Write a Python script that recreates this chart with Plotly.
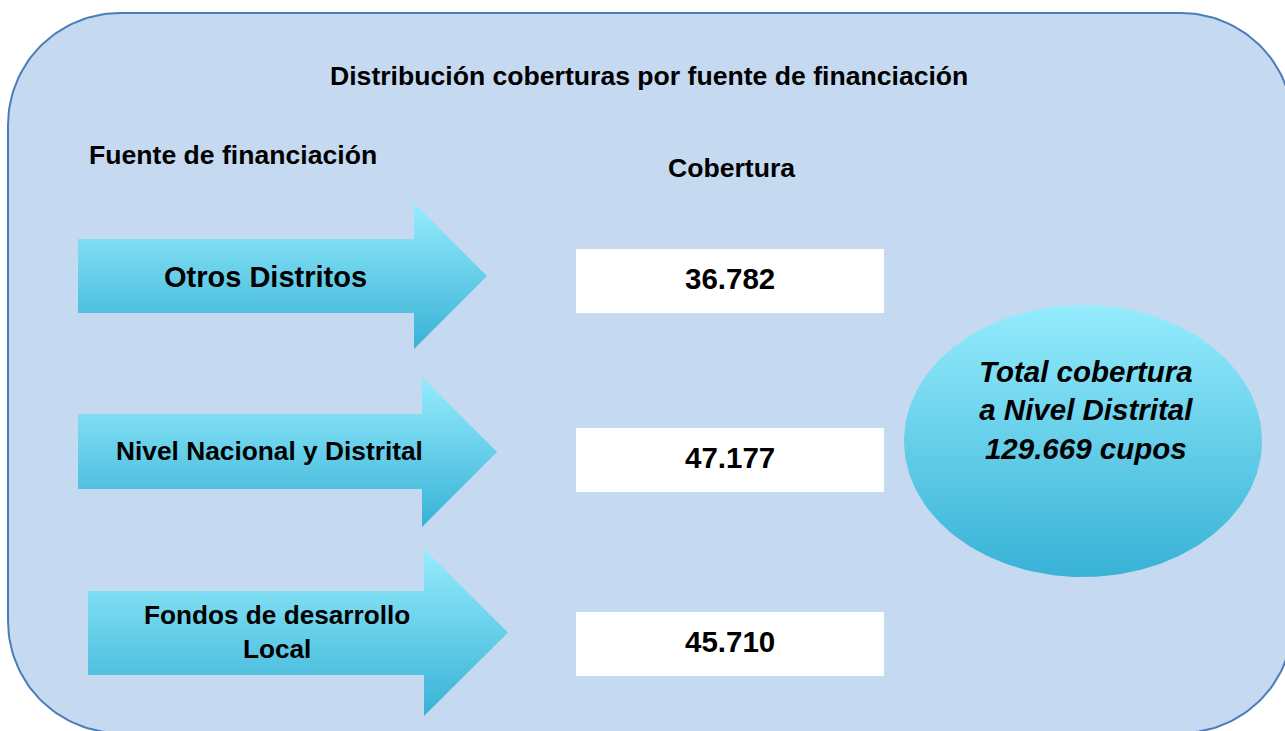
import plotly.graph_objects as go
import numpy as np

# ---------------- data ----------------
title_text = "Distribución coberturas por fuente de financiación"
col_source = "Fuente de financiación"
col_cov = "Cobertura"
categories = ["Otros Distritos", "Nivel Nacional y Distrital", "Fondos de desarrollo<br>Local"]
coberturas = [36782, 47177, 45710]
total_label = ["Total cobertura", "a Nivel Distrital", "cupos"]

def fmt(n):
    return f"{n:,}".replace(",", ".")

total = sum(coberturas)

# ---------------- layout geometry (pixels) ----------------
W, H = 1285, 731
FONT = "Liberation Sans, Arial, sans-serif"
PANEL_FILL = "#C5D9F1"
PANEL_LINE = "#4A7EBB"
GRAD = [[0, "#95ECFD"], [1, "#38B2D6"]]

# arrows: x0, head base x, tip x, body top, body bottom, head top, head bottom
arrows = [
    (78, 414, 487, 239, 313, 203, 349),
    (78, 422, 497, 414, 489, 377, 527),
    (88, 424, 508, 591, 675, 549, 716),
]
arrow_text_pos = [(265, 277), (269, 451), (277, 632)]
arrow_font = [29, 26.3, 26.2]
boxes = [(576, 884, 249, 313), (576, 884, 428, 492), (576, 884, 612, 676)]
ellipse = (1083, 441, 179, 136)

fig = go.Figure()

# rounded panel
L, T, R, B, r = 8, 13, 1293, 733, 112
pts = []
for cx, cy, a0 in [(R - r, T + r, -90), (R - r, B - r, 0), (L + r, B - r, 90), (L + r, T + r, 180)]:
    ang = np.radians(np.linspace(a0, a0 + 90, 40))
    pts += [(cx + r * np.cos(a), cy + r * np.sin(a)) for a in ang]
pts.append(pts[0])
fig.add_trace(go.Scatter(
    x=[p[0] for p in pts], y=[p[1] for p in pts], mode="lines", fill="toself",
    fillcolor=PANEL_FILL, line=dict(color=PANEL_LINE, width=2), hoverinfo="skip"))

# arrows
for (x0, xb, xt, bt, bb, ht, hb) in arrows:
    cy = (ht + hb) / 2
    xs = [x0, xb, xb, xt, xb, xb, x0, x0]
    ys = [bt, bt, ht, cy, hb, bb, bb, bt]
    fig.add_trace(go.Scatter(
        x=xs, y=ys, mode="lines", fill="toself", line=dict(width=0, color="rgba(0,0,0,0)"),
        fillgradient=dict(type="vertical", colorscale=GRAD, start=ht, stop=hb),
        hoverinfo="skip"))

# ellipse
ecx, ecy, erx, ery = ellipse
t = np.linspace(0, 2 * np.pi, 200)
fig.add_trace(go.Scatter(
    x=ecx + erx * np.cos(t), y=ecy + ery * np.sin(t), mode="lines", fill="toself",
    line=dict(width=0, color="rgba(0,0,0,0)"),
    fillgradient=dict(type="vertical", colorscale=GRAD, start=ecy - ery, stop=ecy + ery),
    hoverinfo="skip"))

shapes = []
for (x0, x1, y0, y1) in boxes:
    shapes.append(dict(type="rect", xref="x", yref="y", x0=x0, x1=x1, y0=y0, y1=y1,
                       fillcolor="white", line=dict(width=0)))

ann = []
def add_text(x, y, text, size, italic=False):
    ann.append(dict(x=x, y=y, xref="x", yref="y", text=text, showarrow=False,
                    xanchor="center", yanchor="middle",
                    font=dict(family=FONT, size=size, color="black",
                              weight="bold", style="italic" if italic else "normal")))

add_text(649, 76, title_text, 26.6)
add_text(233, 155, col_source, 26.6)
add_text(731, 168, col_cov, 26.6)
for (tx, ty), cat, fs in zip(arrow_text_pos, categories, arrow_font):
    add_text(tx, ty, cat, fs)
for (x0, x1, y0, y1), v in zip(boxes, coberturas):
    add_text((x0 + x1) / 2, (y0 + y1) / 2 - 3, fmt(v), 29.5)
add_text(1086, 410, "<br>".join([total_label[0], total_label[1], f"{fmt(total)} {total_label[2]}"]), 29.5, italic=True)

fig.update_layout(
    width=W, height=H, margin=dict(l=0, r=0, t=0, b=0),
    paper_bgcolor="white", plot_bgcolor="white", showlegend=False,
    xaxis=dict(range=[0, W], visible=False, fixedrange=True),
    yaxis=dict(range=[H, 0], visible=False, fixedrange=True),
    shapes=shapes, annotations=ann,
)

fig.write_html("out.html", config={"displayModeBar": False},
               post_script="document.body.style.margin='0';document.body.style.overflow='hidden';")
